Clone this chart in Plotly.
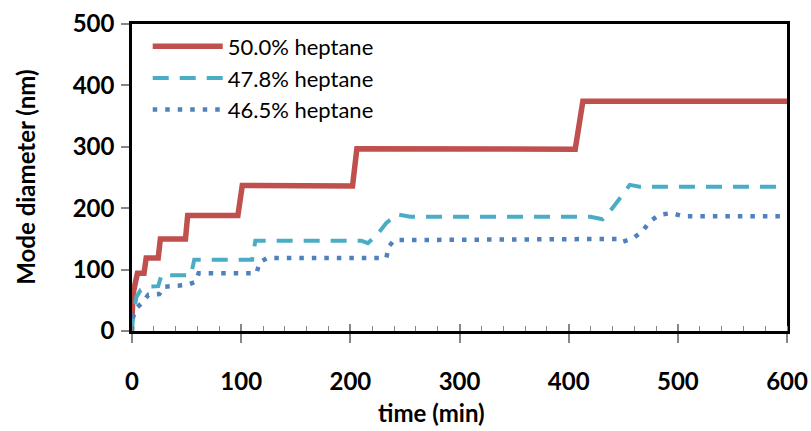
import plotly.graph_objects as go

# Mode diameter growth for three heptane fractions
t_500 = [0, 1, 3, 5, 11, 13, 24, 26, 49, 51, 97, 101, 202, 206, 406, 413, 600]
d_500 = [22, 60, 78, 94, 94, 119, 119, 150, 150, 188, 188, 237, 236, 297, 296, 374, 374]

t_478 = [0, 1, 4, 8, 14, 24, 27, 54, 57, 110, 113, 210, 216, 224, 233, 243, 255,
         420, 431, 440, 449, 456, 465, 600]
d_478 = [0, 23, 55, 67, 72, 73, 91, 91, 116, 116, 147, 147, 143, 156, 176, 190, 186,
         186, 182, 200, 221, 238, 235, 235]

t_465 = [0, 1, 5, 10, 15, 25, 29, 50, 58, 61, 114, 117, 124, 233, 235, 240, 446, 449,
         459, 468, 474, 483, 494, 505, 600]
d_465 = [0, 23, 39, 47, 59, 60, 72, 75, 80, 94, 94, 112, 119, 119, 137, 148, 150, 145,
         151, 163, 178, 189, 192, 187, 187]

names = ["50.0% heptane", "47.8% heptane", "46.5% heptane"]
x_range = [0, 600]
y_range = [0, 500]

fig = go.Figure()
fig.add_trace(go.Scatter(x=t_500, y=d_500, mode="lines", name=names[0],
                         line=dict(color="#C0504D", width=5.5)))
fig.add_trace(go.Scatter(x=t_478, y=d_478, mode="lines", name=names[1],
                         line=dict(color="#4BACC6", width=4, dash="16px,11px")))
fig.add_trace(go.Scatter(x=t_465, y=d_465, mode="lines", name=names[2],
                         line=dict(color="#4F81BD", width=4.5, dash="4.5px,8px")))
# empty trace so the overlay axis (inner half of the major ticks) is drawn
fig.add_trace(go.Scatter(x=[], y=[], xaxis="x2", showlegend=False, hoverinfo="skip"))

tick_font = dict(family="Lato", size=24, color="black")
title_font = dict(family="Lato", size=24, color="black")
tick_grey = "#868686"

fig.update_layout(
    width=811, height=431,
    margin=dict(l=132, r=24, t=24, b=100),
    plot_bgcolor="white", paper_bgcolor="white",
    font=dict(family="Lato", color="black"),
    showlegend=True,
    legend=dict(x=0.024, y=0.995, xanchor="left", yanchor="top",
                bgcolor="rgba(0,0,0,0)", font=dict(family="Lato", size=22),
                itemwidth=70, tracegroupgap=0),
    xaxis=dict(range=x_range, dtick=100, tickfont=tick_font, automargin=False,
               showgrid=False, zeroline=False, showline=True, linecolor="black",
               linewidth=2.5, mirror=True, ticks="outside", ticklen=9,
               tickcolor=tick_grey, tickwidth=1.5, ticklabelstandoff=18,
               tickprefix="<b>", ticksuffix="</b>",
               minor=dict(ticks="inside", dtick=20, ticklen=5, tickcolor=tick_grey,
                          tickwidth=1.2)),
    xaxis2=dict(range=x_range, dtick=100, overlaying="x", anchor="y", side="bottom",
                showticklabels=False, showgrid=False, zeroline=False, showline=False,
                ticks="inside", ticklen=7, tickcolor=tick_grey, tickwidth=1.5,
                automargin=False),
    yaxis=dict(range=y_range, dtick=100, tickfont=tick_font, automargin=False,
               showgrid=False, zeroline=False, showline=True, linecolor="black",
               linewidth=2.5, mirror=True, ticks="outside", ticklen=8,
               tickcolor=tick_grey, tickwidth=1.5, ticklabelstandoff=2,
               tickprefix="<b>", ticksuffix="</b>"),
    annotations=[
        dict(text="<b>time (min)</b>", xref="paper", yref="paper", x=0.458, y=-0.265,
             xanchor="center", yanchor="middle", showarrow=False, font=title_font),
        dict(text="<b>Mode diameter (nm)</b>", xref="paper", yref="paper", x=-0.163,
             y=0.5, xanchor="center", yanchor="middle", textangle=-90,
             showarrow=False, font=title_font),
    ],
)

fig.write_html("out.html")
